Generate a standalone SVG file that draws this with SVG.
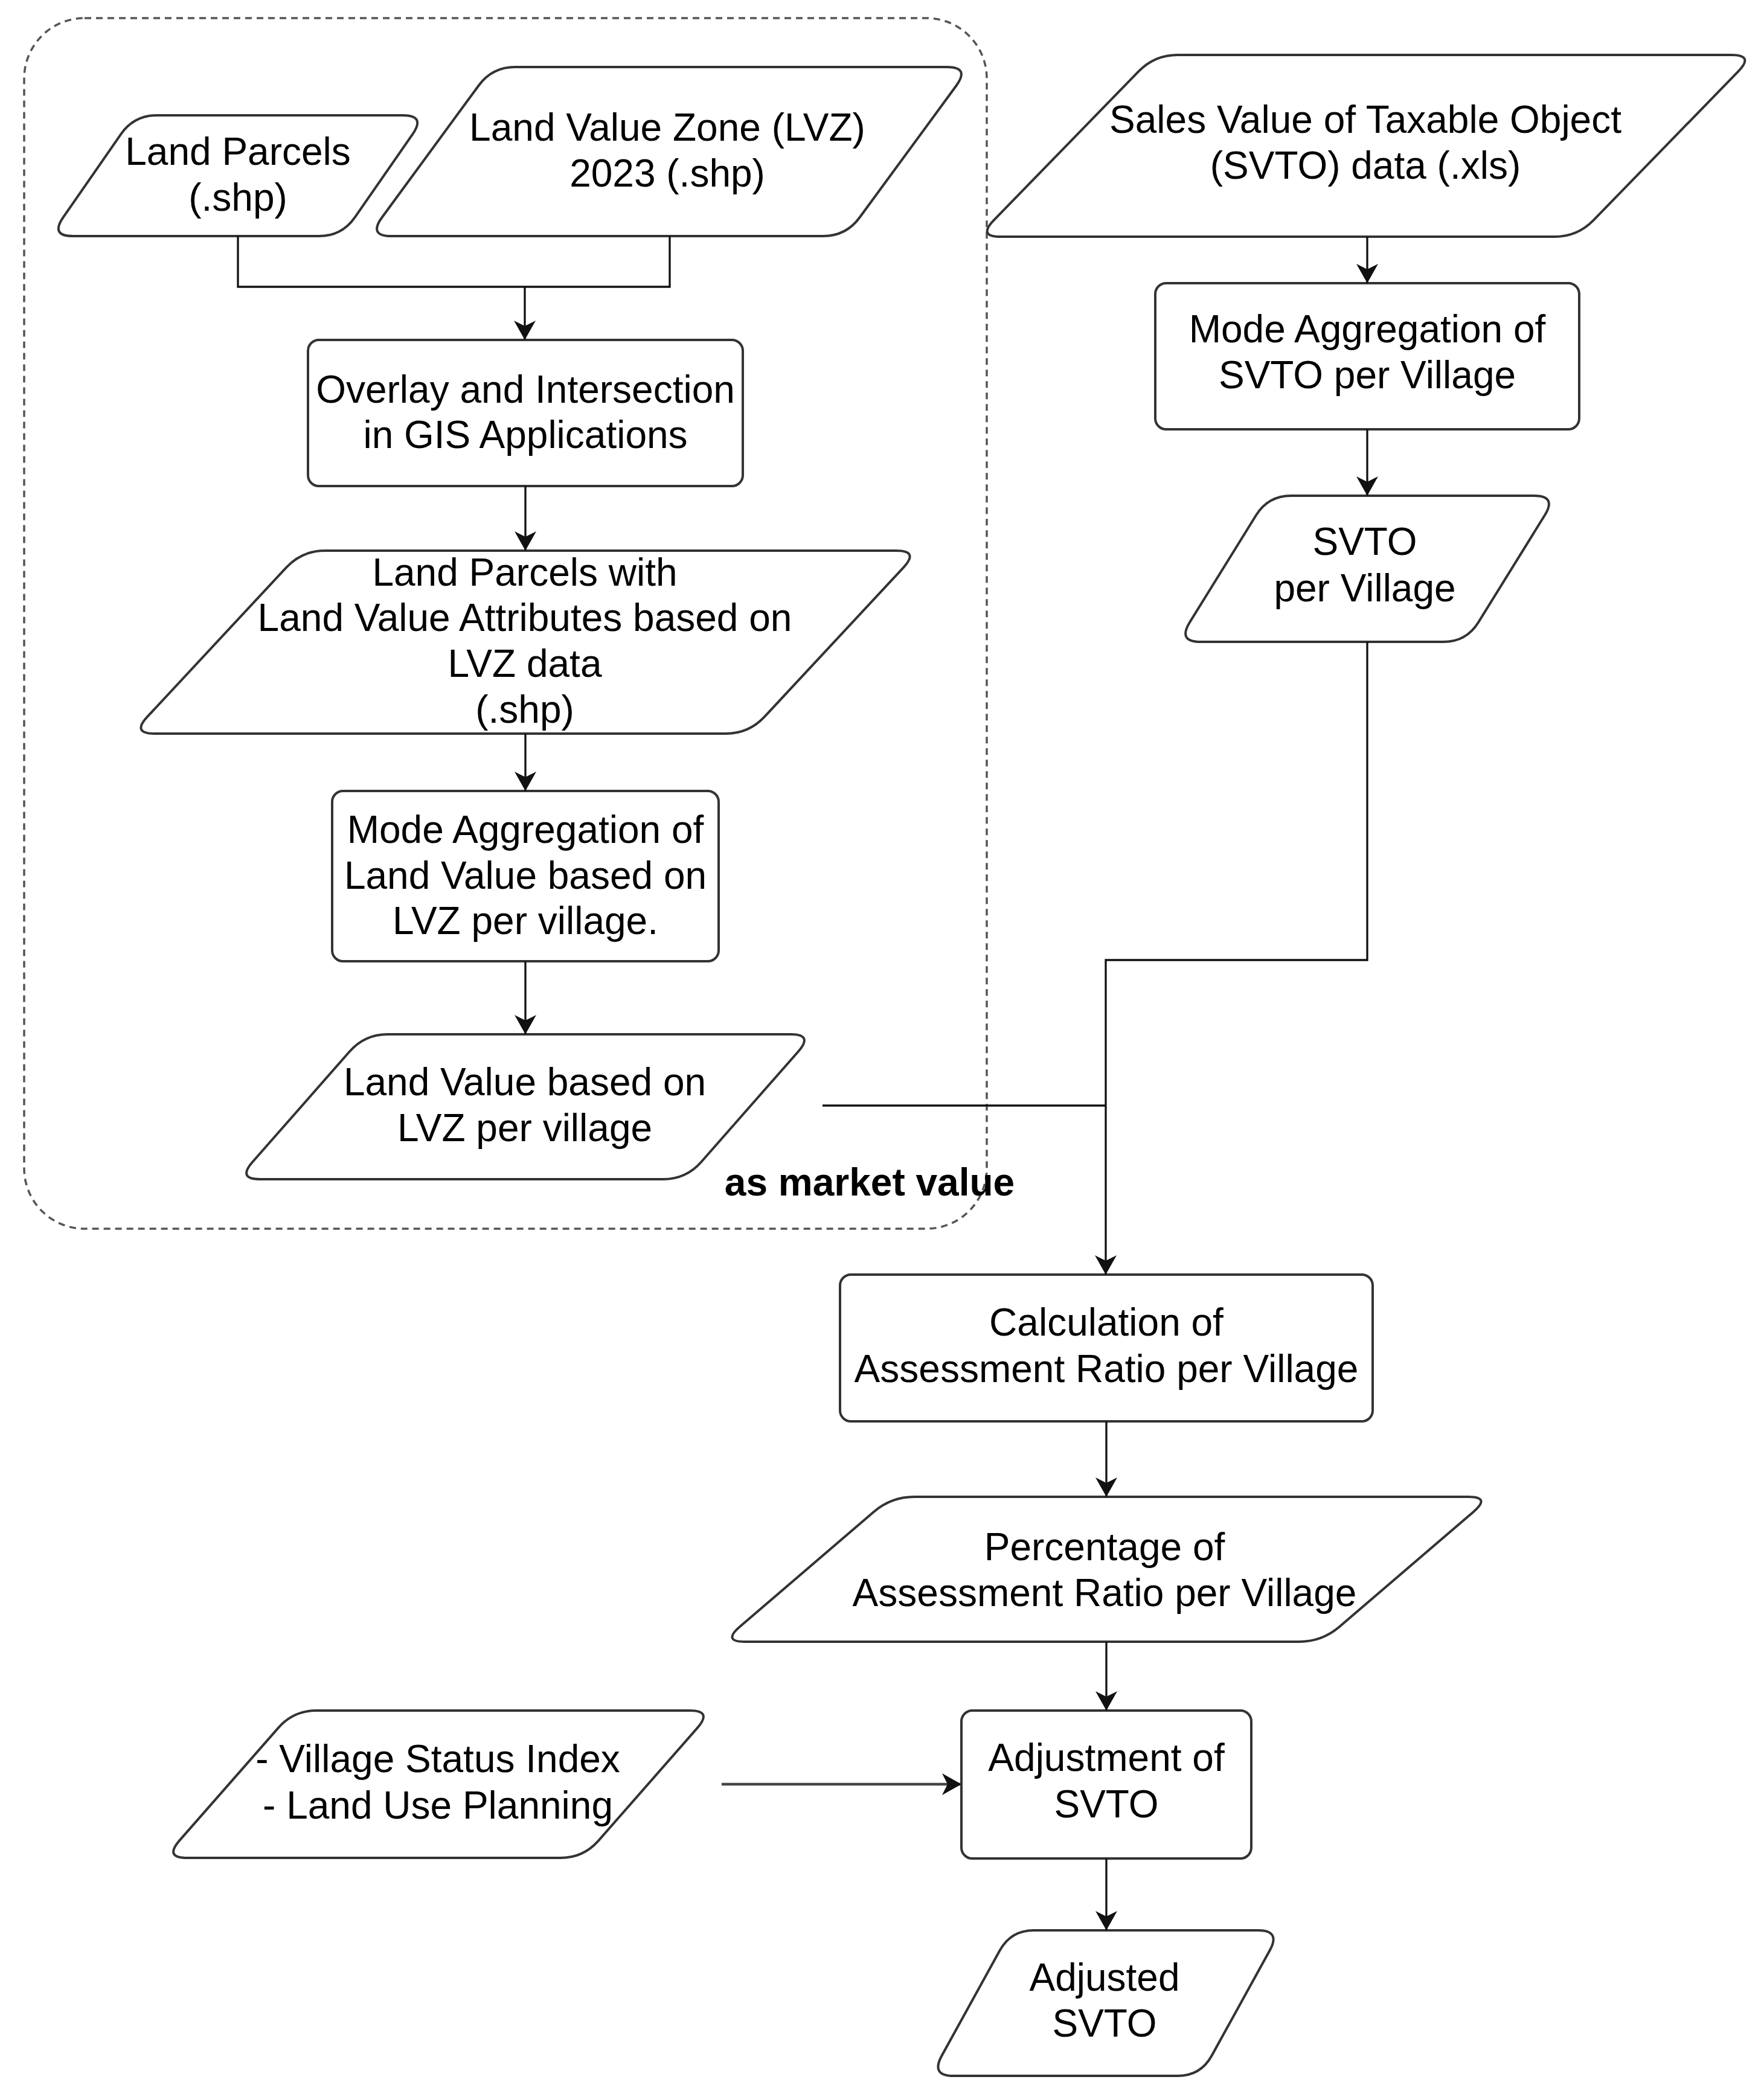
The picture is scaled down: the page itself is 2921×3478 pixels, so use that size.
<svg xmlns="http://www.w3.org/2000/svg" width="2921" height="3478" viewBox="0 0 2921 3478">
<style>
.shape{fill:#fff;stroke:#333;stroke-width:4}
.edge{fill:none;stroke:#111;stroke-width:3.3}
.t{font-family:"Liberation Sans",Arial,sans-serif;font-size:64px;fill:#000;text-anchor:middle}
.b{font-weight:bold}
.group{fill:none;stroke:#555;stroke-width:3.5;stroke-dasharray:11 8}
</style>
<defs>
<marker id="arr" viewBox="0 0 32 36" refX="32" refY="18" markerWidth="32" markerHeight="36" markerUnits="userSpaceOnUse" orient="auto">
<path d="M0,0 L32,18 L0,36 L9,18 Z" fill="#111"/>
</marker>
</defs>
<rect width="2921" height="3478" fill="#fff"/>
<g id="container">
<rect class="group" x="40" y="30" width="1594" height="2005" rx="100" ry="100"/>
</g>
<g id="n-land-parcels">
<path class="shape" d="M260,191 L667,191 Q705,191 683.3,222.2 L587.7,359.8 Q566,391 528,391 L121,391 Q83,391 104.7,359.8 L200.3,222.2 Q222,191 260,191 Z"/>
<text class="t" x="394" y="273">Land Parcels</text>
<text class="t" x="394" y="349">(.shp)</text>
</g>
<g id="n-lvz">
<path class="shape" d="M853,111 L1568,111 Q1606,111 1583.6,141.7 L1423.4,360.3 Q1401,391 1363,391 L648,391 Q610,391 632.4,360.3 L792.6,141.7 Q815,111 853,111 Z"/>
<text class="t" x="1105" y="233">Land Value Zone (LVZ)</text>
<text class="t" x="1105" y="309">2023 (.shp)</text>
</g>
<g id="n-overlay">
<rect class="shape" x="510" y="563" width="720" height="242" rx="18" ry="18"/>
<text class="t" x="870" y="667">Overlay and Intersection</text>
<text class="t" x="870" y="742">in GIS Applications</text>
</g>
<g id="n-parcels-attr">
<path class="shape" d="M538,912 L1484,912 Q1522,912 1496.1,939.8 L1265.9,1187.2 Q1240,1215 1202,1215 L256,1215 Q218,1215 243.9,1187.2 L474.1,939.8 Q500,912 538,912 Z"/>
<text class="t" x="869" y="970">Land Parcels with</text>
<text class="t" x="869" y="1045">Land Value Attributes based on</text>
<text class="t" x="869" y="1121">LVZ data</text>
<text class="t" x="869" y="1197">(.shp)</text>
</g>
<g id="n-mode-lv">
<rect class="shape" x="550" y="1310" width="640" height="282" rx="18" ry="18"/>
<text class="t" x="870" y="1396">Mode Aggregation of</text>
<text class="t" x="870" y="1472">Land Value based on</text>
<text class="t" x="870" y="1547">LVZ per village.</text>
</g>
<g id="n-lv-village">
<path class="shape" d="M642,1713 L1309,1713 Q1347,1713 1321.9,1741.5 L1161.1,1924.5 Q1136,1953 1098,1953 L431,1953 Q393,1953 418.1,1924.5 L578.9,1741.5 Q604,1713 642,1713 Z"/>
<text class="t" x="869" y="1814">Land Value based on</text>
<text class="t" x="869" y="1890">LVZ per village</text>
</g>
<g id="label-market">
<text class="t b" x="1440" y="1980">as market value</text>
</g>
<g id="n-svto-data">
<path class="shape" d="M1950,91 L2867,91 Q2905,91 2878.5,118.2 L2638.5,364.8 Q2612,392 2574,392 L1657,392 Q1619,392 1645.5,364.8 L1885.5,118.2 Q1912,91 1950,91 Z"/>
<text class="t" x="2261" y="220">Sales Value of Taxable Object</text>
<text class="t" x="2261" y="296">(SVTO) data (.xls)</text>
</g>
<g id="n-mode-svto">
<rect class="shape" x="1913" y="469" width="702" height="242" rx="18" ry="18"/>
<text class="t" x="2264" y="567">Mode Aggregation of</text>
<text class="t" x="2264" y="643">SVTO per Village</text>
</g>
<g id="n-svto-village">
<path class="shape" d="M2138,821 L2540,821 Q2578,821 2558,853.3 L2448,1030.7 Q2428,1063 2390,1063 L1988,1063 Q1950,1063 1970,1030.7 L2080,853.3 Q2100,821 2138,821 Z"/>
<text class="t" x="2260" y="919">SVTO</text>
<text class="t" x="2260" y="996">per Village</text>
</g>
<g id="n-calc">
<rect class="shape" x="1391" y="2111" width="882" height="243" rx="18" ry="18"/>
<text class="t" x="1832" y="2212">Calculation of</text>
<text class="t" x="1832" y="2289">Assessment Ratio per Village</text>
</g>
<g id="n-percentage">
<path class="shape" d="M1514,2479 L2431,2479 Q2469,2479 2440.1,2503.7 L2217.9,2694.3 Q2189,2719 2151,2719 L1234,2719 Q1196,2719 1224.9,2694.3 L1447.1,2503.7 Q1476,2479 1514,2479 Z"/>
<text class="t" x="1829" y="2584">Percentage of</text>
<text class="t" x="1829" y="2660">Assessment Ratio per Village</text>
</g>
<g id="n-village-status">
<path class="shape" d="M524,2833 L1142,2833 Q1180,2833 1154.9,2861.6 L991.1,3048.4 Q966,3077 928,3077 L310,3077 Q272,3077 297.1,3048.4 L460.9,2861.6 Q486,2833 524,2833 Z"/>
<text class="t" x="725" y="2935">- Village Status Index</text>
<text class="t" x="725" y="3012">- Land Use Planning</text>
</g>
<g id="n-adjustment">
<rect class="shape" x="1592" y="2833" width="480" height="245" rx="18" ry="18"/>
<text class="t" x="1832" y="2933">Adjustment of</text>
<text class="t" x="1832" y="3010">SVTO</text>
</g>
<g id="n-adjusted">
<path class="shape" d="M1712,3197 L2083,3197 Q2121,3197 2102.6,3230.3 L2006.4,3404.7 Q1988,3438 1950,3438 L1579,3438 Q1541,3438 1559.4,3404.7 L1655.6,3230.3 Q1674,3197 1712,3197 Z"/>
<text class="t" x="1829" y="3297">Adjusted</text>
<text class="t" x="1829" y="3373">SVTO</text>
</g>
<g id="connectors">
<path class="edge" d="M394,391 V475 H1109 V391"/>
<path class="edge" d="M869,475 V563" marker-end="url(#arr)"/>
<path class="edge" d="M870,805 V912" marker-end="url(#arr)"/>
<path class="edge" d="M870,1215 V1310" marker-end="url(#arr)"/>
<path class="edge" d="M870,1592 V1713" marker-end="url(#arr)"/>
<path class="edge" d="M1362,1831 H1831"/>
<path class="edge" d="M2264,1063 V1590 H1831 V2111" marker-end="url(#arr)"/>
<path class="edge" d="M2264,392 V469" marker-end="url(#arr)"/>
<path class="edge" d="M2264,711 V821" marker-end="url(#arr)"/>
<path class="edge" d="M1832,2354 V2479" marker-end="url(#arr)"/>
<path class="edge" d="M1832,2719 V2833" marker-end="url(#arr)"/>
<path class="edge" d="M1195,2955 H1592" marker-end="url(#arr)" style="stroke-width:4.5;stroke:#444"/>
<path class="edge" d="M1832,3078 V3197" marker-end="url(#arr)"/>
</g>
</svg>
